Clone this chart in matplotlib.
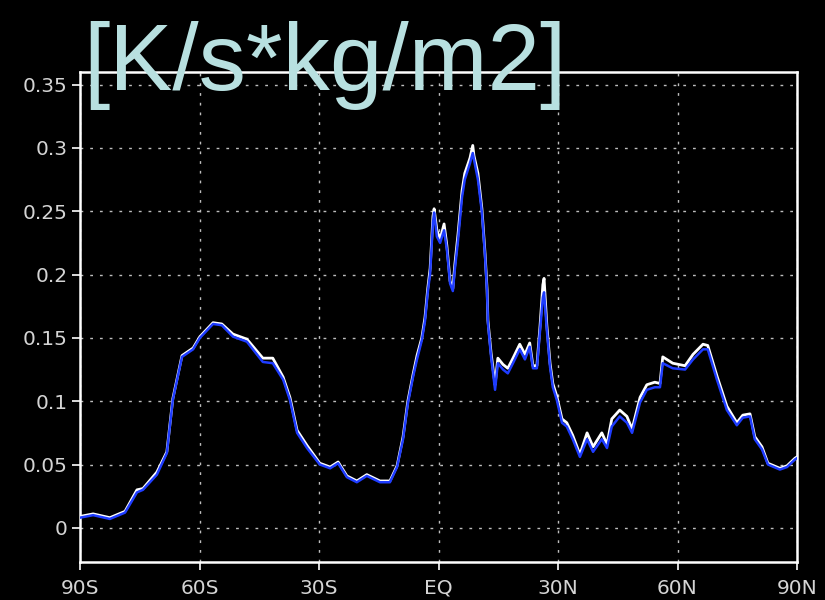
import matplotlib
matplotlib.use("Agg")
import matplotlib.pyplot as plt

# latitude (deg, negative = south) and values
lat = [-90.0, -86.7, -82.5, -78.7, -75.7, -74.2, -70.7, -68.2, -66.7, -64.4,
       -61.6, -59.9, -56.6, -54.4, -51.6, -48.1, -44.1, -41.6, -39.0, -37.3,
       -35.5, -33.0, -29.8, -27.2, -25.2, -23.0, -20.5, -18.0, -14.7, -12.2,
       -10.4, -8.9, -7.7, -6.4, -5.4, -4.2, -3.4, -2.7, -2.1, -1.4,
       -1.1, -0.4, 0.4, 1.4, 2.1, 2.9, 3.6, 4.1, 4.9, 5.9,
       6.6, 7.9, 8.6, 8.9, 9.9, 10.9, 11.7, 12.2, 12.4, 13.2,
       14.2, 14.9, 16.2, 17.4, 18.7, 20.4, 21.7, 22.9, 23.7, 24.7,
       25.5, 26.2, 26.5, 27.2, 28.0, 28.7, 29.7, 31.0, 32.2, 33.7,
       35.5, 37.3, 38.8, 41.0, 42.3, 43.5, 45.5, 47.3, 48.6, 50.6,
       52.3, 54.3, 55.6, 56.3, 58.8, 61.9, 63.9, 66.4, 67.6, 69.9,
       72.4, 74.9, 76.4, 78.2, 79.4, 81.2, 82.7, 85.7, 87.5, 89.5, 90.0]

blue_vals = [0.008, 0.010, 0.007, 0.012, 0.028, 0.030, 0.042, 0.059, 0.101, 0.135,
             0.141, 0.150, 0.161, 0.160, 0.151, 0.147, 0.131, 0.130, 0.117, 0.101,
             0.075, 0.063, 0.050, 0.047, 0.051, 0.040, 0.036, 0.041, 0.036, 0.036,
             0.048, 0.070, 0.098, 0.119, 0.133, 0.148, 0.163, 0.186, 0.201, 0.241,
             0.249, 0.230, 0.225, 0.235, 0.220, 0.193, 0.187, 0.204, 0.227, 0.261,
             0.275, 0.288, 0.296, 0.291, 0.275, 0.249, 0.214, 0.186, 0.162, 0.135,
             0.109, 0.130, 0.125, 0.122, 0.130, 0.141, 0.133, 0.143, 0.126, 0.126,
             0.156, 0.182, 0.186, 0.156, 0.127, 0.111, 0.101, 0.083, 0.080, 0.070,
             0.056, 0.070, 0.060, 0.070, 0.063, 0.080, 0.088, 0.083, 0.075, 0.099,
             0.109, 0.111, 0.111, 0.130, 0.126, 0.125, 0.133, 0.141, 0.141, 0.117,
             0.093, 0.081, 0.087, 0.088, 0.070, 0.062, 0.050, 0.046, 0.048, 0.054, 0.055]

white_vals = [0.009, 0.011, 0.008, 0.013, 0.030, 0.031, 0.044, 0.060, 0.102, 0.136,
              0.142, 0.151, 0.162, 0.161, 0.153, 0.149, 0.134, 0.134, 0.119, 0.103,
              0.077, 0.065, 0.051, 0.048, 0.052, 0.041, 0.037, 0.042, 0.037, 0.037,
              0.049, 0.072, 0.100, 0.121, 0.136, 0.150, 0.166, 0.189, 0.205, 0.246,
              0.252, 0.235, 0.228, 0.240, 0.223, 0.195, 0.189, 0.208, 0.232, 0.266,
              0.280, 0.292, 0.302, 0.294, 0.280, 0.252, 0.216, 0.188, 0.164, 0.138,
              0.113, 0.134, 0.129, 0.126, 0.134, 0.145, 0.137, 0.146, 0.128, 0.128,
              0.160, 0.192, 0.197, 0.160, 0.130, 0.114, 0.104, 0.086, 0.083, 0.073,
              0.058, 0.075, 0.064, 0.075, 0.066, 0.086, 0.093, 0.088, 0.078, 0.103,
              0.113, 0.115, 0.114, 0.135, 0.130, 0.128, 0.137, 0.145, 0.144, 0.120,
              0.096, 0.083, 0.089, 0.090, 0.072, 0.064, 0.051, 0.047, 0.049, 0.055, 0.056]

xticks = [-90, -60, -30, 0, 30, 60, 90]
xticklabels = ["90S", "60S", "30S", "EQ", "30N", "60N", "90N"]
yticks = [0, 0.05, 0.1, 0.15, 0.2, 0.25, 0.3, 0.35]
yticklabels = ["0", "0.05", "0.1", "0.15", "0.2", "0.25", "0.3", "0.35"]
title = "[K/s*kg/m2]"

fig = plt.figure(figsize=(8.25, 6), dpi=100, facecolor="black")
ax = fig.add_axes([80/825, 38/600, 717/825, 490/600])
ax.set_facecolor("black")

ax.plot(lat, white_vals, color="white", lw=2.0, zorder=3)
ax.plot(lat, blue_vals, color="#1e3cff", lw=1.8, zorder=4)

ax.set_xlim(-90, 90)
ax.set_ylim(-0.027, 0.360)
ax.set_xticks(xticks)
ax.set_xticklabels(xticklabels)
ax.set_yticks(yticks)
ax.set_yticklabels(yticklabels)

for s in ax.spines.values():
    s.set_color("white")
    s.set_linewidth(1.8)

ax.tick_params(colors="white", labelcolor="#d4d4d4", length=6, width=1.2,
               labelsize=14.5, direction="out", pad=3)
ax.tick_params(axis="x", pad=6)

ax.grid(True, color="#bdbdbd", linestyle=(0, (2, 5)), linewidth=1.0)
ax.set_axisbelow(True)

fig.text(83/825, 1 - 90/600, title, color="#b8e0e0", fontsize=68,
         family="Liberation Sans", ha="left", va="baseline", zorder=10)

fig.savefig("out.png", dpi=100, facecolor="black")
